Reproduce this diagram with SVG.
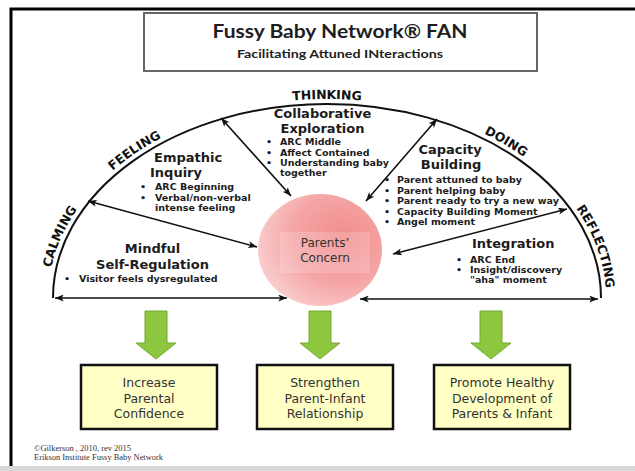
<svg xmlns="http://www.w3.org/2000/svg" width="635" height="471" viewBox="0 0 635 471">
<defs>
<style>
.title{font-family:Lato,"Open Sans",sans-serif;font-weight:bold;fill:#1e1e1e}
.h{font-family:"DejaVu Sans",Verdana,sans-serif;font-weight:bold;font-size:13px;fill:#1c1c1c}
.b{font-family:"DejaVu Sans",Verdana,sans-serif;font-weight:bold;font-size:9.5px;fill:#1c1c1c}
.arc{font-family:"DejaVu Sans",Verdana,sans-serif;font-weight:bold;font-size:12.5px;fill:#111}
.conn{stroke:#111;stroke-width:1.6;fill:none;marker-start:url(#ah);marker-end:url(#ah)}
.box{fill:#ffffc6;stroke:#111;stroke-width:2.5}
.bt{font-family:"DejaVu Sans",Verdana,sans-serif;font-size:12.5px;fill:#333;text-anchor:middle}
.green{fill:#8dc63f;stroke:#74a834;stroke-width:1}
.foot{font-family:"Liberation Serif",serif;font-size:8px;fill:#333}
.pc{font-family:"DejaVu Sans",Verdana,sans-serif;font-size:12px;fill:#333;text-anchor:middle}
</style>
<marker id="ah" viewBox="0 0 10 8" refX="10" refY="4" markerWidth="9" markerHeight="7" markerUnits="userSpaceOnUse" orient="auto-start-reverse"><path d="M0,0 L10,4 L0,8 L2.5,4 z" fill="#111"/></marker>
<radialGradient id="pink" cx="0.68" cy="0.4" r="0.75">
<stop offset="0" stop-color="#f28b8b"/>
<stop offset="0.55" stop-color="#f5a6a6"/>
<stop offset="1" stop-color="#fbd3d3"/>
</radialGradient>
<path id="tp" d="M48 298 A279 199 0 0 1 606 298"/>
</defs>
<rect x="0" y="0" width="635" height="471" fill="#fff"/>
<rect x="0" y="466" width="635" height="5" fill="#d9d9d9"/>
<path d="M11 466 V9 H635" fill="none" stroke="#000" stroke-width="3"/>

<g id="title">
<rect x="144" y="13" width="393" height="58" fill="#fff" stroke="#666" stroke-width="2"/>
<text class="title" x="340" y="38" text-anchor="middle" font-size="19" textLength="255" lengthAdjust="spacingAndGlyphs">Fussy Baby Network® FAN</text>
<text class="title" x="340" y="58" text-anchor="middle" font-size="11.5" textLength="206" lengthAdjust="spacingAndGlyphs" fill="#333">Facilitating Attuned INteractions</text>
</g>

<g id="fan-arc">
<path d="M53 298 A274 194 0 0 1 601 298" fill="none" stroke="#111" stroke-width="2"/>
<text class="arc"><textPath href="#tp" startOffset="8.3%" text-anchor="middle">CALMING</textPath></text>
<text class="arc"><textPath href="#tp" startOffset="23.4%" text-anchor="middle">FEELING</textPath></text>
<text class="arc"><textPath href="#tp" startOffset="50%" text-anchor="middle">THINKING</textPath></text>
<text class="arc"><textPath href="#tp" startOffset="74.5%" text-anchor="middle">DOING</textPath></text>
<text class="arc"><textPath href="#tp" startOffset="93%" text-anchor="middle">REFLECTING</textPath></text>
</g>

<g id="connectors">
<line class="conn" x1="55" y1="298" x2="287" y2="298"/>
<line class="conn" x1="360" y1="299" x2="598" y2="299"/>
<line class="conn" x1="88" y1="201" x2="257" y2="247"/>
<line class="conn" x1="221" y1="118" x2="291" y2="196"/>
<line class="conn" x1="437" y1="119" x2="366" y2="201"/>
<line class="conn" x1="567" y1="209" x2="393" y2="254"/>
</g>

<g id="parents-concern">
<ellipse cx="320" cy="250" rx="62" ry="56" fill="url(#pink)"/>
<rect x="280" y="232" width="90" height="41" fill="#fff" fill-opacity="0.18"/>
<text class="pc" x="325" y="247">Parents’</text>
<text class="pc" x="325" y="262">Concern</text>
</g>

<g id="collaborative-exploration">
<text class="h" x="322.5" y="118" text-anchor="middle">Collaborative</text>
<text class="h" x="322.5" y="133" text-anchor="middle">Exploration</text>
<text class="b" x="266" y="145">•</text><text class="b" x="280" y="145">ARC Middle</text>
<text class="b" x="266" y="155.5">•</text><text class="b" x="280" y="155.5">Affect Contained</text>
<text class="b" x="266" y="166">•</text><text class="b" x="280" y="166">Understanding baby</text>
<text class="b" x="280" y="176">together</text>
</g>

<g id="empathic-inquiry">
<text class="h" x="154" y="162">Empathic</text>
<text class="h" x="150" y="177">Inquiry</text>
<text class="b" x="140" y="190">•</text><text class="b" x="155" y="190">ARC Beginning</text>
<text class="b" x="140" y="200.5">•</text><text class="b" x="155" y="200.5">Verbal/non-verbal</text>
<text class="b" x="155" y="210.5">intense feeling</text>
</g>

<g id="mindful-self-regulation">
<text class="h" x="152.5" y="253" text-anchor="middle">Mindful</text>
<text class="h" x="152.5" y="269" text-anchor="middle">Self-Regulation</text>
<text class="b" x="64" y="282">•</text><text class="b" x="79" y="282">Visitor feels dysregulated</text>
</g>

<g id="capacity-building">
<text class="h" x="450" y="154" text-anchor="middle">Capacity</text>
<text class="h" x="451" y="169" text-anchor="middle">Building</text>
<text class="b" x="384" y="183">•</text><text class="b" x="397" y="183">Parent attuned to baby</text>
<text class="b" x="384" y="193.5">•</text><text class="b" x="397" y="193.5">Parent helping baby</text>
<text class="b" x="384" y="204">•</text><text class="b" x="397" y="204">Parent ready to try a new way</text>
<text class="b" x="384" y="214.5">•</text><text class="b" x="397" y="214.5">Capacity Building Moment</text>
<text class="b" x="384" y="225">•</text><text class="b" x="397" y="225">Angel moment</text>
</g>

<g id="integration">
<text class="h" x="472" y="248">Integration</text>
<text class="b" x="456" y="263">•</text><text class="b" x="470" y="263">ARC End</text>
<text class="b" x="456" y="273">•</text><text class="b" x="470" y="273">Insight/discovery</text>
<text class="b" x="470" y="283">"aha" moment</text>
</g>

<g id="green-arrows">
<polygon class="green" points="145,311 167,311 167,343 176,343 156,359 136,343 145,343"/>
<polygon class="green" points="309,311 331,311 331,343 340,343 320,359 300,343 309,343"/>
<polygon class="green" points="480,311 502,311 502,343 511,343 491,359 471,343 480,343"/>
</g>

<g id="box-confidence">
<rect class="box" x="81" y="365" width="136" height="64"/>
<text class="bt" x="149" y="387">Increase</text>
<text class="bt" x="149" y="402.5">Parental</text>
<text class="bt" x="149" y="418">Confidence</text>
</g>
<g id="box-relationship">
<rect class="box" x="257" y="365" width="136" height="64"/>
<text class="bt" x="325" y="387">Strengthen</text>
<text class="bt" x="325" y="402.5">Parent-Infant</text>
<text class="bt" x="325" y="418">Relationship</text>
</g>
<g id="box-development">
<rect class="box" x="434" y="365" width="136" height="64"/>
<text class="bt" x="502" y="387">Promote Healthy</text>
<text class="bt" x="502" y="402.5">Development of</text>
<text class="bt" x="502" y="418">Parents &amp; Infant</text>
</g>

<g id="footer">
<text class="foot" x="34" y="451" textLength="97" lengthAdjust="spacingAndGlyphs">©Gilkerson , 2010, rev 2015</text>
<text class="foot" x="34" y="460" textLength="129" lengthAdjust="spacingAndGlyphs">Erikson Institute Fussy Baby Network</text>
</g>
</svg>
